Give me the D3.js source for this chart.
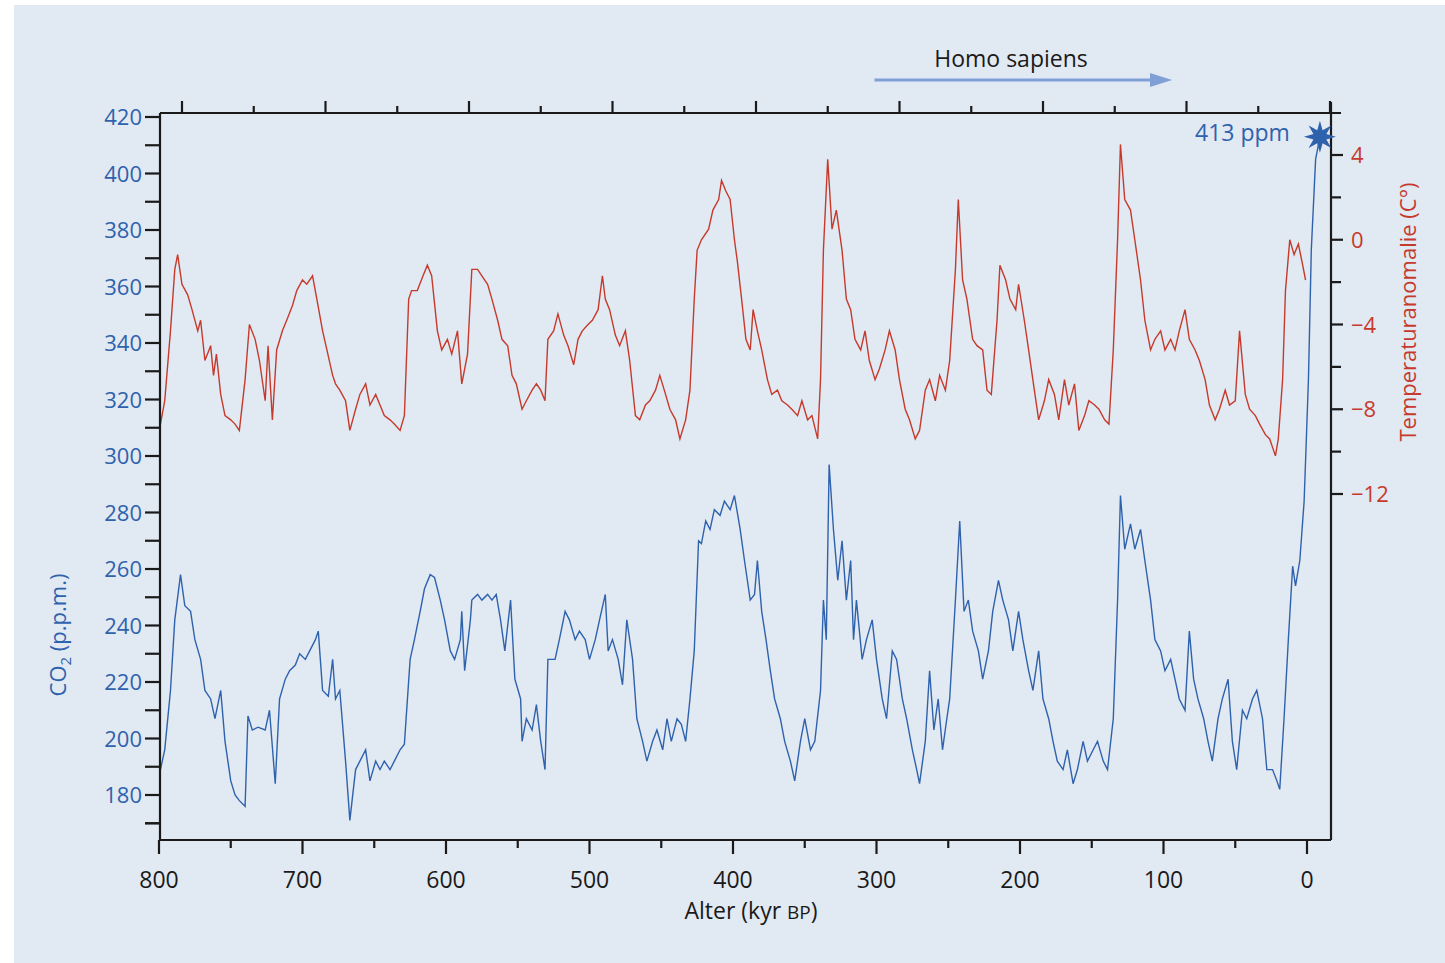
<!DOCTYPE html>
<html><head><meta charset="utf-8">
<script src="https://cdn.jsdelivr.net/npm/d3@7"></script>
<style>body{margin:0;background:#fff}svg{display:block}text{font-family:"Open Sans","Noto Sans",sans-serif}</style>
</head><body><svg id="c" width="1445" height="963"></svg>
<script>
const co2Age=[799,796,792,789,785,782,778,775,771,768,764,761,757,754,750,747,744,740,738,735,731,726,723,719,716,712,709,705,702,698,695,691,689,686,682,679,677,674,670,667,663,660,656,653,649,646,643,639,636,632,629,625,622,618,615,611,608,604,601,597,594,590,589,587,583,582,578,575,571,568,565,562,559,555,552,548,547,544,540,537,534,531,529,524,521,517,514,510,507,503,500,496,493,489,487,484,480,477,474,470,467,463,460,456,453,449,446,443,439,436,433,430,427,424,422,419,416,413,409,406,402,399,395,392,388,385,383,380,377,374,371,367,364,360,357,353,350,346,343,339,337,335,333,330,327,324,321,318,316,314,310,307,303,300,296,293,289,286,282,279,275,272,270,266,263,260,257,254,251,249,245,242,239,236,233,229,226,222,219,215,212,208,205,201,198,194,191,187,184,180,177,174,170,167,163,160,156,153,149,146,142,139,135,132,130,127,123,120,116,113,109,106,102,99,95,92,89,85,82,79,76,72,69,66,62,59,55,52,49,45,42,38,35,31,28,24,21,19,16,13,10,8,5,2,-1,-3,-6,-9];
const co2Val=[189,196,217,242,258,247,245,235,228,217,214,207,217,199,185,180,178,176,208,203,204,203,210,184,214,221,224,226,230,228,231,235,238,217,215,228,214,217,192,171,189,192,196,185,192,189,192,189,192,196,198,228,235,245,253,258,257,249,242,231,228,235,245,224,242,249,251,249,251,249,251,242,231,249,221,214,199,207,203,212,199,189,228,228,235,245,242,235,238,235,228,235,242,251,231,235,228,219,242,228,207,199,192,199,203,196,207,199,207,205,199,214,231,270,269,277,274,281,279,284,281,286,274,263,249,251,263,245,235,224,214,207,199,192,185,199,207,196,199,217,249,235,297,274,256,270,249,263,235,249,228,235,242,228,214,207,231,228,214,207,196,189,184,199,224,203,214,196,207,214,249,277,245,249,238,231,221,231,245,256,249,242,231,245,235,224,217,231,214,207,199,192,189,196,184,189,199,192,196,199,192,189,207,249,286,267,276,267,274,263,249,235,231,224,228,221,214,210,238,221,214,207,199,192,207,214,221,199,189,210,207,214,217,207,189,189,185,182,207,235,261,254,263,284,327,373,405,413];
const tAge=[799,796,792,789,787,784,780,777,773,771,768,764,762,760,757,754,750,747,744,740,737,733,730,726,724,721,718,714,711,707,704,700,697,693,690,686,683,679,677,674,670,667,663,660,656,653,649,646,643,639,636,632,629,626,624,620,616,613,610,606,603,599,596,592,589,585,582,578,575,571,568,564,561,557,554,551,547,544,540,537,534,531,529,525,522,518,515,511,508,505,501,498,494,491,489,486,482,479,475,472,468,465,461,458,454,451,447,444,440,437,433,430,427,425,422,417,414,410,408,405,402,399,397,394,391,388,386,383,380,376,373,369,366,362,359,355,352,348,345,341,339,337,334,331,328,324,321,318,315,311,308,305,301,298,294,291,287,284,280,277,273,270,266,263,259,256,252,249,245,243,240,237,233,230,226,223,220,216,214,210,207,203,201,197,194,190,187,183,180,176,173,169,166,162,159,155,152,148,145,141,138,135,132,130,127,123,120,116,113,109,106,102,99,95,92,89,85,82,78,75,71,68,64,61,57,54,50,47,43,40,36,33,29,26,22,20,17,15,12,9,6,3,1];
const tVal=[-8.7,-7.6,-4.3,-1.4,-0.7,-2.1,-2.6,-3.3,-4.3,-3.8,-5.7,-5.0,-6.4,-5.4,-7.3,-8.3,-8.5,-8.7,-9.0,-6.6,-4.0,-4.7,-5.7,-7.6,-5.0,-8.5,-5.2,-4.3,-3.8,-3.1,-2.4,-1.9,-2.1,-1.7,-2.8,-4.3,-5.2,-6.4,-6.8,-7.1,-7.6,-9.0,-8.0,-7.3,-6.8,-7.8,-7.3,-7.8,-8.3,-8.5,-8.7,-9.0,-8.3,-2.8,-2.4,-2.4,-1.7,-1.2,-1.7,-4.3,-5.2,-4.7,-5.4,-4.3,-6.8,-5.4,-1.4,-1.4,-1.7,-2.1,-2.8,-3.8,-4.7,-5.0,-6.4,-6.8,-8.0,-7.6,-7.1,-6.8,-7.1,-7.6,-4.7,-4.3,-3.5,-4.5,-5.0,-5.9,-4.7,-4.3,-4.0,-3.8,-3.3,-1.7,-2.8,-3.3,-4.5,-5.0,-4.3,-5.7,-8.3,-8.5,-7.8,-7.6,-7.1,-6.4,-7.3,-8.0,-8.5,-9.4,-8.5,-7.1,-2.8,-0.5,0.0,0.5,1.4,1.9,2.8,2.3,1.9,0.0,-1.0,-2.8,-4.7,-5.2,-3.3,-4.3,-5.2,-6.6,-7.3,-7.1,-7.6,-7.8,-8.0,-8.3,-7.6,-8.5,-8.3,-9.4,-6.6,-0.5,3.8,0.5,1.4,-0.5,-2.8,-3.3,-4.7,-5.2,-4.3,-5.7,-6.6,-6.1,-5.2,-4.3,-5.2,-6.6,-8.0,-8.5,-9.4,-9.0,-7.1,-6.6,-7.6,-6.4,-7.1,-5.7,-1.4,1.9,-1.9,-2.8,-4.7,-5.0,-5.2,-7.1,-7.3,-3.8,-1.2,-1.9,-2.8,-3.3,-2.1,-3.8,-5.2,-7.1,-8.5,-7.6,-6.6,-7.3,-8.5,-6.6,-7.8,-6.8,-9.0,-8.3,-7.6,-7.8,-8.0,-8.5,-8.7,-5.2,0.0,4.5,1.9,1.4,0.0,-1.9,-3.8,-5.2,-4.7,-4.3,-5.2,-4.7,-5.2,-4.3,-3.3,-4.7,-5.2,-5.7,-6.6,-7.8,-8.5,-8.0,-7.1,-7.8,-7.6,-4.3,-7.3,-8.0,-8.3,-8.7,-9.2,-9.4,-10.2,-9.4,-6.6,-2.4,0.0,-0.7,-0.2,-1.2,-1.9];
const xTicks=[800,700,600,500,400,300,200,100,0];
const co2Ticks=[420,400,380,360,340,320,300,280,260,240,220,200,180];
const tTicks=[4,0,-4,-8,-12];

const blue="#2f62ad", red="#c63a2c", ink="#1a1a1a";
const svg=d3.select("#c");
svg.append("rect").attr("x",14).attr("y",5).attr("width",1431).attr("height",958).attr("fill","#e1e9f2");
const x=d3.scaleLinear().domain([800,0]).range([159,1307]);
const xt=d3.scaleLinear().domain([784,-16]).range([182,1330]);
const yL=d3.scaleLinear().domain([420,180]).range([117,795]);
const yR=d3.scaleLinear().domain([4,-12]).range([155,494]);
const L=160,R=1331,T=113,B=840;

const g=svg.append("g");
g.append("path").datum(d3.zip(tAge,tVal)).attr("fill","none").attr("stroke",red).attr("stroke-width",1.4)
 .attr("d",d3.line().x(d=>x(d[0])).y(d=>yR(d[1])));
g.append("path").datum(d3.zip(co2Age,co2Val)).attr("fill","none").attr("stroke",blue).attr("stroke-width",1.4)
 .attr("d",d3.line().x(d=>x(d[0])).y(d=>yL(d[1])));

// frame
const ax=svg.append("g").attr("stroke",ink).attr("stroke-width",2.2);
ax.append("line").attr("x1",L).attr("x2",R+10).attr("y1",T).attr("y2",T);
ax.append("line").attr("x1",L).attr("x2",R).attr("y1",B).attr("y2",B);
ax.append("line").attr("x1",L).attr("x2",L).attr("y1",T).attr("y2",B);
ax.append("line").attr("x1",R).attr("x2",R).attr("y1",T-11).attr("y2",B);

// bottom
const bx=svg.append("g").attr("transform",`translate(0,${B})`)
 .call(d3.axisBottom(x).tickValues(d3.range(800,-1,-50)).tickSize(0).tickFormat(""));
bx.select(".domain").remove();
d3.range(800,-1,-50).forEach(v=>{svg.append("line").attr("x1",x(v)).attr("x2",x(v)).attr("y1",B).attr("y2",B+(v%100===0?14:8)).attr("stroke",ink).attr("stroke-width",2.2);});
xTicks.forEach(v=>svg.append("text").attr("x",x(v)).attr("y",B+48).attr("text-anchor","middle").attr("font-size",23).attr("fill",ink).text(v));
const xl=svg.append("text").attr("x",751).attr("y",919).attr("text-anchor","middle").attr("font-size",23).attr("fill",ink);
xl.append("tspan").text("Alter (kyr ");xl.append("tspan").attr("font-size",19).text("BP");xl.append("tspan").text(")");
// top
d3.range(784,-17,-50).forEach(v=>{svg.append("line").attr("x1",xt(v)).attr("x2",xt(v)).attr("y1",T).attr("y2",T-((784-v)%100===0?12:7)).attr("stroke",ink).attr("stroke-width",2.2);});
// left
d3.range(420,169,-10).forEach(v=>{svg.append("line").attr("x1",L).attr("x2",L-15).attr("y1",yL(v)).attr("y2",yL(v)).attr("stroke",ink).attr("stroke-width",2.2);});
svg.append("line").attr("x1",L).attr("x2",L-15).attr("y1",yL(170)).attr("y2",yL(170)).attr("stroke",ink).attr("stroke-width",2.2);
co2Ticks.forEach(v=>svg.append("text").attr("x",L-18).attr("y",yL(v)+8).attr("text-anchor","end").attr("font-size",22).attr("fill",blue).text(v));
const yl=svg.append("text").attr("transform","translate(66,635) rotate(-90)").attr("text-anchor","middle").attr("font-size",22).attr("fill",blue);
yl.append("tspan").text("CO");yl.append("tspan").attr("font-size",15).attr("dy",5).text("2");yl.append("tspan").attr("dy",-5).text(" (p.p.m.)");
// right
d3.range(4,-13,-2).forEach(v=>{svg.append("line").attr("x1",R).attr("x2",R+(v%4===0?12:10)).attr("y1",yR(v)).attr("y2",yR(v)).attr("stroke",ink).attr("stroke-width",2.2);});
tTicks.forEach(v=>svg.append("text").attr("x",R+20).attr("y",yR(v)+8).attr("font-size",22).attr("fill",red).text(v<0?"\u2212"+(-v):v));
svg.append("text").attr("transform","translate(1416,312) rotate(-90)").attr("text-anchor","middle").attr("font-size",22).attr("fill",red).text("Temperaturanomalie (C°)");

// star
const sx=x(co2Age[co2Age.length-1]), sy=yL(co2Val[co2Val.length-1]);
const pts=d3.range(16).map(i=>{const a=i*Math.PI/8-Math.PI/2, r=i%2?7:16;return [sx+r*Math.cos(a),sy+r*Math.sin(a)];});
svg.append("polygon").attr("points",pts.map(p=>p.join(",")).join(" ")).attr("fill",blue);
svg.append("text").attr("x",sx-30).attr("y",sy+4).attr("text-anchor","end").attr("font-size",23).attr("fill",blue).text("413 ppm");

// Homo sapiens arrow
svg.append("line").attr("x1",x(300)-2).attr("x2",1152).attr("y1",80).attr("y2",80).attr("stroke","#7f9fd6").attr("stroke-width",3);
svg.append("polygon").attr("points","1150,73 1172,80 1150,87").attr("fill","#7f9fd6");
svg.append("text").attr("x",1011).attr("y",67).attr("text-anchor","middle").attr("font-size",23).attr("fill",ink).text("Homo sapiens");
</script></body></html>
